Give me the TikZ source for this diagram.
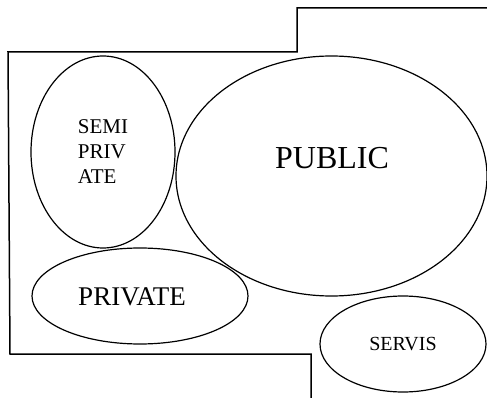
\documentclass[tikz,border=0pt]{standalone}
\usepackage{fontspec}
\setmainfont{Liberation Serif}
\usepackage{tikz}
\usetikzlibrary{shapes.geometric}

\begin{document}
\begin{tikzpicture}[x=1pt,y=-1pt,
  zone/.style={draw=black, line width=1.2pt, ellipse, inner sep=0pt}]
\useasboundingbox (0,0) rectangle (487,398);
\draw[line width=1.5pt] (487,8) -- (297,8) -- (297,52) -- (8,52) -- (10,354) -- (311,354) -- (311,398);
\node[zone, minimum width=144pt, minimum height=192pt, align=left, font=\fontsize{21}{25}\selectfont] (semipriv) at (103,152) {SEMI\\PRIV\\ATE};
\node[zone, minimum width=311pt, minimum height=240pt] (public) at (331.5,176) {};
\node[font=\fontsize{32}{36}\selectfont] (publictext) at (332,158) {PUBLIC};
\node[zone, minimum width=216pt, minimum height=96pt] (private) at (140,296) {};
\node[font=\fontsize{27}{30}\selectfont] (privatetext) at (132,297) {PRIVATE};
\node[zone, minimum width=166pt, minimum height=96pt, font=\fontsize{20}{24}\selectfont] (servis) at (403,344) {SERVIS};
\end{tikzpicture}
\end{document}
